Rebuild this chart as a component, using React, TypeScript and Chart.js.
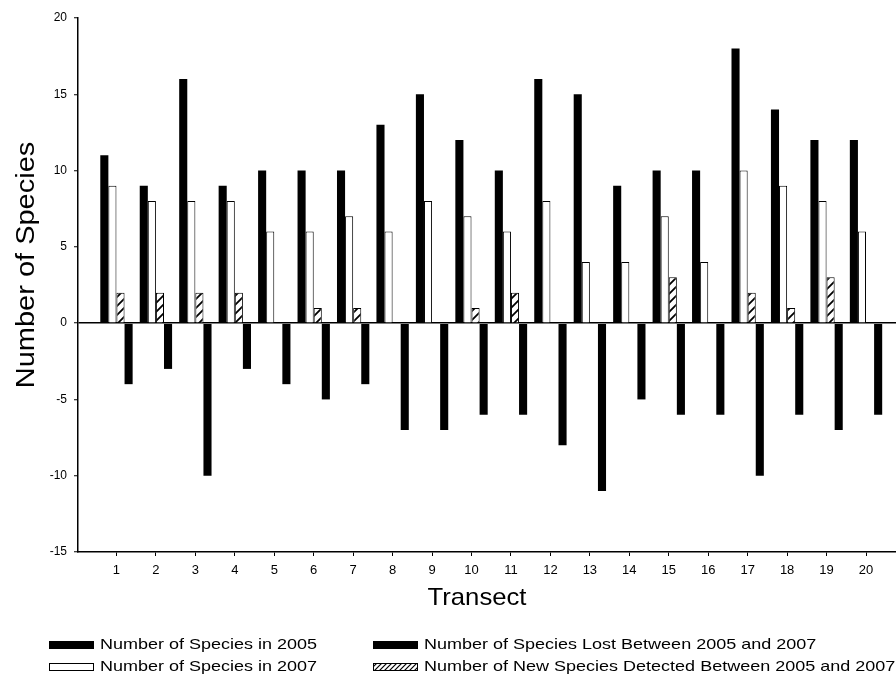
import React, { useEffect, useRef } from 'react';
import { Chart, registerables } from 'chart.js';

Chart.register(...registerables);

const transects = [1, 2, 3, 4, 5, 6, 7, 8, 9, 10, 11, 12, 13, 14, 15, 16, 17, 18, 19, 20];
const species2005 = [11, 9, 16, 9, 10, 10, 10, 13, 15, 12, 10, 16, 15, 9, 10, 10, 18, 14, 12, 12];
const species2007 = [9, 8, 8, 8, 6, 6, 7, 6, 8, 7, 6, 8, 4, 4, 7, 4, 10, 9, 8, 6];
const newSpecies = [2, 2, 2, 2, 0, 1, 1, 0, 0, 1, 2, 0, 0, 0, 3, 0, 2, 1, 3, 0];
const lostSpecies = [-4, -3, -10, -3, -4, -5, -4, -7, -7, -6, -6, -8, -11, -5, -6, -6, -10, -6, -7, -6];
const yTickValues = [-15, -10, -5, 0, 5, 10, 15, 20];

const label2005 = 'Number of Species in 2005';
const label2007 = 'Number of Species in 2007';
const labelLost = 'Number of Species Lost Between 2005 and 2007';
const labelNew = 'Number of New Species Detected Between 2005 and 2007';
const yTitle = 'Number of Species';
const xTitle = 'Transect';

const FAMILY = '"Liberation Sans", Arial, Helvetica, sans-serif';

function makeHatch(ctx: CanvasRenderingContext2D, size: number, lw: number): CanvasPattern {
  const c = document.createElement('canvas');
  c.width = size;
  c.height = size;
  const g = c.getContext('2d') as CanvasRenderingContext2D;
  g.fillStyle = '#fff';
  g.fillRect(0, 0, size, size);
  g.strokeStyle = '#000';
  g.lineWidth = lw;
  g.beginPath();
  g.moveTo(0, size);
  g.lineTo(size, 0);
  g.moveTo(-2, 2);
  g.lineTo(2, -2);
  g.moveTo(size - 2, size + 2);
  g.lineTo(size + 2, size - 2);
  g.stroke();
  return ctx.createPattern(c, 'repeat') as CanvasPattern;
}

function stretchedText(
  ctx: CanvasRenderingContext2D,
  text: string,
  x: number,
  y: number,
  size: number,
  sx: number,
  align: CanvasTextAlign,
  rotate = 0
) {
  ctx.save();
  ctx.translate(x, y);
  if (rotate) ctx.rotate(rotate);
  ctx.scale(sx, 1);
  ctx.font = `${size}px ${FAMILY}`;
  ctx.fillStyle = '#000';
  ctx.textAlign = align;
  ctx.textBaseline = 'middle';
  ctx.fillText(text, 0, 0);
  ctx.restore();
}

export default function App() {
  const ref = useRef<HTMLCanvasElement | null>(null);

  useEffect(() => {
    const canvas = ref.current;
    if (!canvas) return;
    const ctx = canvas.getContext('2d') as CanvasRenderingContext2D;
    const hatch = makeHatch(ctx, 9, 1.8);
    const hatchSmall = makeHatch(ctx, 5, 1.2);

    const textPlugin = {
      id: 'customText',
      afterDraw(chart: any) {
        const c: CanvasRenderingContext2D = chart.ctx;
        stretchedText(c, yTitle, 27, 265, 25, 1.16, 'center', -Math.PI / 2);
        stretchedText(c, xTitle, 477, 598, 24, 1.07, 'center');

        const items = [
          { x: 49, y: 645, fill: '#000', stroke: null, text: label2005 },
          { x: 49, y: 667, fill: '#fff', stroke: '#000', text: label2007 },
          { x: 373, y: 645, fill: '#000', stroke: null, text: labelLost },
          { x: 373, y: 667, fill: hatchSmall, stroke: '#000', text: labelNew },
        ];
        items.forEach((it) => {
          c.save();
          c.fillStyle = it.fill as any;
          c.fillRect(it.x, it.y - 4, 45, 8);
          if (it.stroke) {
            c.strokeStyle = it.stroke;
            c.lineWidth = 1;
            c.strokeRect(it.x + 0.5, it.y - 3.5, 44, 7);
          }
          c.restore();
          stretchedText(c, it.text, it.x + 51, it.y, 15, 1.2, 'left');
        });
      },
    };

    const chart = new Chart(canvas, {
      type: 'bar',
      data: {
        labels: transects,
        datasets: [
          { label: label2005, data: species2005, backgroundColor: '#000', borderWidth: 0 },
          { label: label2007, data: species2007, backgroundColor: '#fff', borderColor: '#000', borderWidth: 1 },
          { label: labelNew, data: newSpecies, backgroundColor: hatch, borderColor: '#000', borderWidth: 1 },
          { label: labelLost, data: lostSpecies, backgroundColor: '#000', borderWidth: 0 },
        ],
      },
      options: {
        animation: false,
        responsive: false,
        maintainAspectRatio: false,
        layout: { padding: { top: 18, left: 0, right: 0, bottom: 0 } },
        datasets: { bar: { categoryPercentage: 0.82, barPercentage: 1.0 } },
        plugins: {
          legend: { display: false },
          tooltip: { enabled: false },
          title: { display: false },
        },
        scales: {
          x: {
            type: 'linear',
            min: 0.025,
            max: 20.76,
            offset: false,
            afterBuildTicks: (s: any) => {
              s.ticks = transects.map((v) => ({ value: v }));
            },
            afterFit: (s: any) => {
              s.height = 128;
            },
            grid: {
              display: true,
              offset: false,
              drawOnChartArea: false,
              drawTicks: true,
              tickLength: 4,
              tickColor: '#000',
              tickWidth: 1,
            },
            border: { display: true, color: '#000', width: 1.5 },
            ticks: {
              font: { size: 13, family: FAMILY },
              color: '#000',
              padding: 7,
              maxRotation: 0,
              autoSkip: false,
            },
          },
          y: {
            type: 'linear',
            min: -15,
            max: 20,
            afterBuildTicks: (s: any) => {
              s.ticks = yTickValues.map((v) => ({ value: v }));
            },
            afterFit: (s: any) => {
              s.width = 78;
            },
            grid: {
              color: (c: any) => (c.tick && c.tick.value === 0 ? '#000' : 'rgba(0,0,0,0)'),
              lineWidth: 1.5,
              drawTicks: true,
              tickLength: 4,
              tickColor: '#000',
              tickWidth: 1,
            },
            border: { display: true, color: '#000', width: 1.5 },
            ticks: {
              font: { size: 12, family: FAMILY },
              color: '#000',
              padding: 7,
            },
          },
        },
      },
      plugins: [textPlugin],
    } as any);

    return () => {
      chart.destroy();
    };
  }, []);

  return (
    <div style={{ position: 'fixed', left: 0, top: 0, width: 896, height: 680, background: '#fff' }}>
      <canvas ref={ref} width={896} height={680} style={{ display: 'block', width: 896, height: 680 }} />
    </div>
  );
}
